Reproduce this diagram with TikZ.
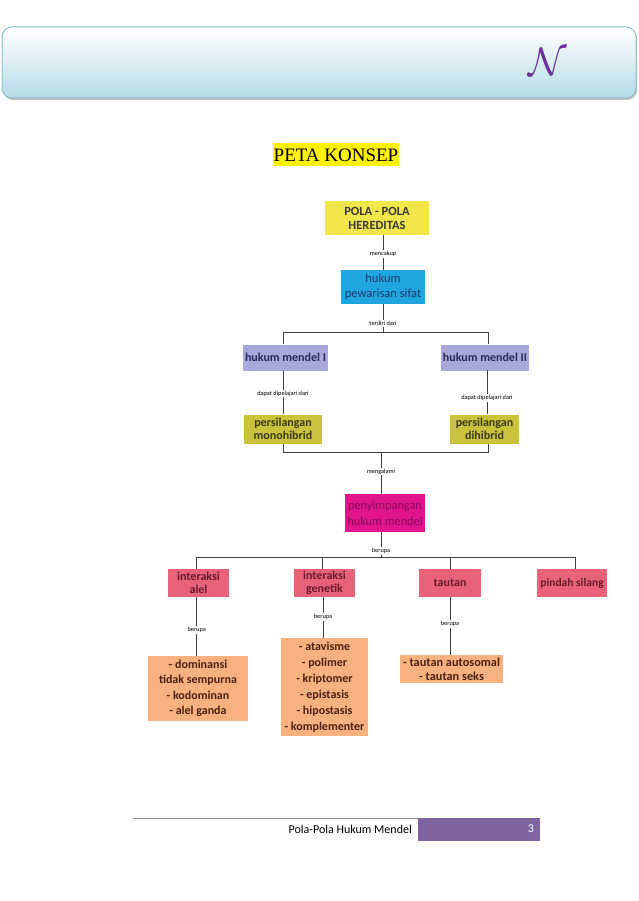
\documentclass[tikz,border=0pt]{standalone}
\usepackage{fontspec}
\setmainfont{Carlito}
\newfontfamily\timesf{Liberation Serif}
\definecolor{hdrblue}{HTML}{B5DCE7}
\definecolor{hdrborder}{HTML}{8FBFCC}
\definecolor{npurple}{HTML}{6A2F9A}
\definecolor{cyel}{HTML}{F2E64A}
\definecolor{tyel}{HTML}{3A3A2A}
\definecolor{cblue}{HTML}{1FA5E0}
\definecolor{tblue}{HTML}{1A3A6A}
\definecolor{clav}{HTML}{A9A8DC}
\definecolor{tlav}{HTML}{2A2A5A}
\definecolor{colive}{HTML}{C9C23A}
\definecolor{tolive}{HTML}{3A3A10}
\definecolor{cmag}{HTML}{E0148C}
\definecolor{tmag}{HTML}{8A0A5A}
\definecolor{crose}{HTML}{E8637A}
\definecolor{trose}{HTML}{6A1A2A}
\definecolor{cpeach}{HTML}{F9B27F}
\definecolor{tpeach}{HTML}{4A2010}
\definecolor{footpurple}{HTML}{8064A2}
\begin{document}
\begin{tikzpicture}[x=1pt,y=-1pt,
  box/.style={inner sep=0pt, align=center, font=\bfseries\fontsize{12}{13}\selectfont},
  lbl/.style={fill=white, inner sep=1pt, font=\fontsize{6.3}{7}\selectfont},
  conn/.style={draw=black!75, line width=0.8pt}]
\useasboundingbox (0,0) rectangle (638,901);
\fill[white] (0,0) rectangle (638,901);
% header
\fill[black!25, rounded corners=10pt] (3,29) rectangle (637,100);
\draw[hdrborder, line width=1pt, rounded corners=10pt, top color=white, bottom color=hdrblue] (2,27) rectangle (636,98);
\node[text=npurple, scale=1.6, font=\fontsize{24}{24}\selectfont] (nlogo) at (548,62) {$\mathcal{N}$};
% title
\node[fill=yellow, inner sep=1pt, minimum height=23, font=\timesf\fontsize{19}{20}\selectfont] (title) at (336,155) {PETA KONSEP};
% boxes
\node[box, fill=cyel, text=tyel, minimum width=104, minimum height=33, font=\bfseries\fontsize{12.5}{14}\selectfont] (pola) at (377,218) {POLA - POLA\\HEREDITAS};
\node[box, fill=cblue, text=tblue, minimum width=84, minimum height=34, font=\fontsize{12.5}{15}\selectfont] (hps) at (383,287) {hukum\\pewarisan sifat};
\node[box, fill=clav, text=tlav, minimum width=85, minimum height=26, font=\bfseries\fontsize{12}{14}\selectfont] (hm1) at (285.5,357.5) {hukum mendel I};
\node[box, fill=clav, text=tlav, minimum width=88, minimum height=26, font=\bfseries\fontsize{12}{14}\selectfont] (hm2) at (485,357.5) {hukum mendel II};
\node[box, fill=colive, text=tolive, minimum width=78, minimum height=29] (pm) at (283,429) {persilangan\\monohibrid};
\node[box, fill=colive, text=tolive, minimum width=69, minimum height=29] (pd) at (484.5,429) {persilangan\\dihibrid};
\node[box, fill=cmag, text=tmag, minimum width=80, minimum height=38, font=\fontsize{12.3}{16}\selectfont] (pen) at (385,513) {penyimpangan\\hukum mendel};
\node[box, fill=crose, text=trose, minimum width=61, minimum height=28] (ia) at (198.5,583) {interaksi\\alel};
\node[box, fill=crose, text=trose, minimum width=61, minimum height=28] (ig) at (324.5,583) {interaksi\\genetik};
\node[box, fill=crose, text=trose, minimum width=62, minimum height=28] (ta) at (450,583) {tautan};
\node[box, fill=crose, text=trose, minimum width=70, minimum height=28, font=\bfseries\fontsize{11.5}{13}\selectfont] (ps) at (572,583) {pindah silang};
\node[box, fill=cpeach, text=tpeach, minimum width=100, minimum height=65, font=\bfseries\fontsize{12}{15.5}\selectfont] (o1) at (198,688.5) {- dominansi\\tidak sempurna\\- kodominan\\- alel ganda};
\node[box, fill=cpeach, text=tpeach, minimum width=87, minimum height=98, font=\bfseries\fontsize{12}{16}\selectfont] (o2) at (324.5,687) {- atavisme\\- polimer\\- kriptomer\\- epistasis\\- hipostasis\\- komplementer};
\node[box, fill=cpeach, text=tpeach, minimum width=103, minimum height=28, font=\bfseries\fontsize{12.3}{13.5}\selectfont] (o3) at (451.5,669) {- tautan autosomal\\- tautan seks};
% connectors
\draw[conn] (hps.north |- pola.south) -- (hps.north) node[lbl, pos=0.55] {mencakup};
\coordinate (t1) at (383,332);
\coordinate (tl) at (283,332);
\coordinate (tr) at (488,332);
\draw[conn] (hps.south) -- (t1) node[lbl, pos=0.7] {terdiri dari};
\draw[conn] (tl |- hm1.north) -- (tl) -- (tr) -- (tr |- hm2.north);
\draw[conn] (pm.north |- hm1.south) -- (pm.north) node[lbl, pos=0.52] {dapat dipelajari dari};
\coordinate (r1) at (487,370);
\draw[conn] (r1) -- (r1 |- pd.north) node[lbl, pos=0.63] {dapat dipelajari dari};
\coordinate (bl) at (283,452.7);
\coordinate (br) at (488,452.7);
\coordinate (bm) at (381,452.7);
\draw[conn] (bl |- pm.south) -- (bl) -- (br) -- (br |- pd.south);
\draw[conn] (bm) -- (bm |- pen.north) node[lbl, pos=0.46] {mengalami};
\coordinate (bb) at (381,557);
\draw[conn] (bb |- pen.south) -- (bb) node[lbl, pos=0.76] {berupa};
\coordinate (h1) at (196.7,557);
\coordinate (h2) at (322.5,557);
\coordinate (h3) at (450.5,557);
\coordinate (h4) at (575,557);
\draw[conn] (h1) -- (h4);
\draw[conn] (h1) -- (h1 |- ia.north);
\draw[conn] (h2) -- (h2 |- ig.north);
\draw[conn] (h3) -- (h3 |- ta.north);
\draw[conn] (h4) -- (h4 |- ps.north);
\coordinate (v1) at (196.7,597);
\coordinate (v2) at (323,597);
\coordinate (v3) at (450,597);
\draw[conn] (v1) -- (v1 |- o1.north) node[lbl, pos=0.56] {berupa};
\draw[conn] (v2) -- (v2 |- o2.north) node[lbl, pos=0.49] {berupa};
\draw[conn] (v3) -- (v3 |- o3.north) node[lbl, pos=0.47] {berupa};
% footer
\coordinate (fl) at (133,818);
\coordinate (fr) at (418,818);
\draw[black!45, line width=0.6pt] (fl) -- (fr);
\fill[footpurple] (418,818) rectangle (540,840.5);
\node[anchor=east, inner sep=0pt, font=\fontsize{12}{13}\selectfont] (ftext) at (412,829) {Pola-Pola Hukum Mendel};
\node[text=white, inner sep=0pt, font=\fontsize{12}{13}\selectfont] (fnum) at (531,829) {3};
\end{tikzpicture}
\end{document}
